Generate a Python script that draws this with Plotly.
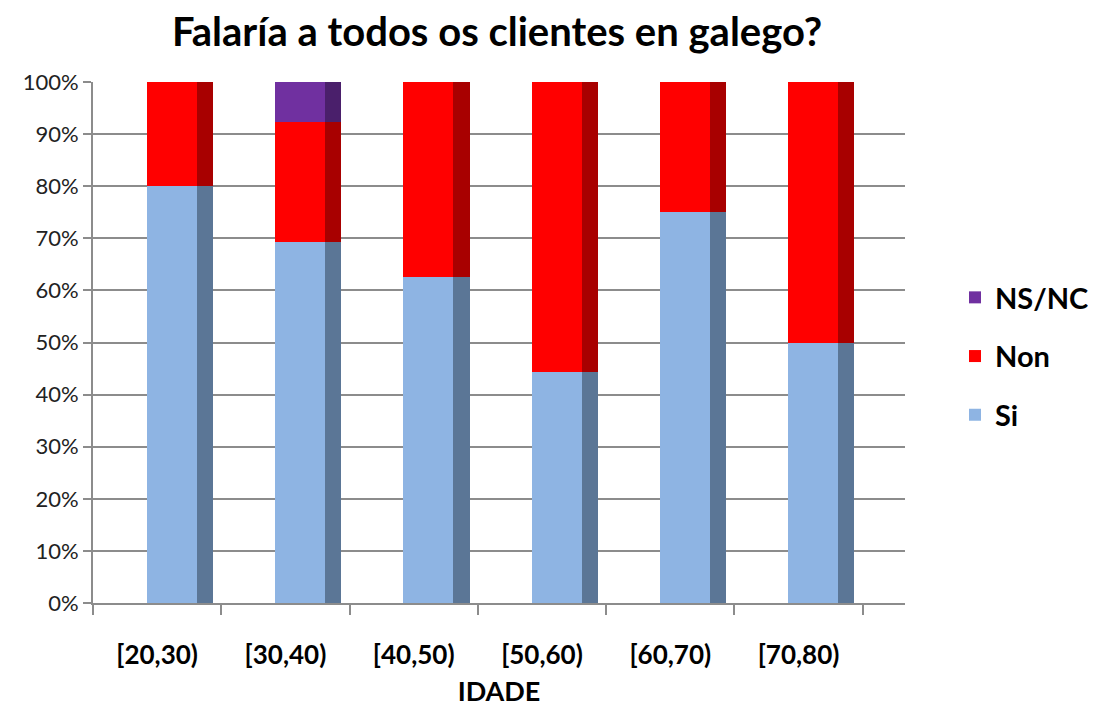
import plotly.graph_objects as go

categories = ["[20,30)", "[30,40)", "[40,50)", "[50,60)", "[60,70)", "[70,80)"]
si = [80.0, 69.2, 62.5, 44.4, 75.0, 50.0]
non = [20.0, 23.1, 37.5, 55.6, 25.0, 50.0]
nsnc = [0.0, 7.7, 0.0, 0.0, 0.0, 0.0]
series = [("Si", si, "#8EB4E3", "#5B7696", 3),
          ("Non", non, "#FF0000", "#A80000", 2),
          ("NS/NC", nsnc, "#7030A0", "#4A1F6B", 1)]
tick_vals = [0, 10, 20, 30, 40, 50, 60, 70, 80, 90, 100]
tick_text = [f"{v}%" for v in tick_vals]

W, H = 1088, 699  # page body has an 8px margin
OFF = 8
FONT = "Lato, 'Open Sans', sans-serif"
fig = go.Figure()
for name, vals, col, side, rank in series:
    fig.add_trace(go.Bar(
        x=categories, y=vals, name=name, marker=dict(color=col, line=dict(width=0)),
        width=0.39, offset=-0.08, legendgroup=name, legendrank=rank,
        xaxis="x", yaxis="y", hoverinfo="x+y+name"))
for name, vals, col, side, rank in series:
    fig.add_trace(go.Bar(
        x=categories, y=vals, name=name, marker=dict(color=side, line=dict(width=0)),
        width=0.125, offset=0.31, showlegend=False, legendgroup=name,
        xaxis="x2", yaxis="y", hoverinfo="skip"))

fig.update_layout(
    width=W, height=H,
    barmode="stack",
    plot_bgcolor="white", paper_bgcolor="white",
    margin=dict(l=93 - OFF, r=1096 - 905, t=82 - OFF, b=707 - 603),
    font=dict(family=FONT, color="#000000"),
    title=dict(text="<b>Falaría a todos os clientes en galego?</b>",
               x=(497 - OFF) / W, xanchor="center", y=1 - (32 - OFF) / H, yanchor="middle",
               font=dict(size=40, family=FONT, color="#000000")),
    xaxis=dict(range=[-0.5, 5.83], showgrid=False, showline=True, linecolor="#8c8c8c",
               linewidth=2, ticks="outside", tickson="boundaries", ticklen=10,
               tickcolor="#8c8c8c", tickwidth=2, ticklabelstandoff=28, automargin=False,
               tickfont=dict(size=26, family=FONT, color="#000000", weight="bold"),
               title=dict(text="<b>IDADE</b>", font=dict(size=27, family=FONT), standoff=16)),
    xaxis2=dict(overlaying="x", matches="x", visible=False, range=[-0.5, 5.83]),
    yaxis=dict(range=[0, 100], tickvals=tick_vals, ticktext=tick_text,
               showgrid=True, gridcolor="#8c8c8c", gridwidth=2,
               showline=True, linecolor="#8c8c8c", linewidth=2, automargin=False,
               ticks="outside", ticklen=8, tickcolor="#8c8c8c", tickwidth=2,
               tickfont=dict(size=22, family=FONT, color="#222222"), zeroline=False),
    legend=dict(xref="container", yref="container", x=(955 - OFF) / W, y=1 - (272 - OFF) / H,
                xanchor="left", yanchor="top", traceorder="grouped",
                tracegroupgap=18, font=dict(size=29, family=FONT, color="#000000", weight="bold"),
                itemwidth=30, bgcolor="rgba(0,0,0,0)"),
    bargap=0, showlegend=True,
)
fig.write_html("out.html")
